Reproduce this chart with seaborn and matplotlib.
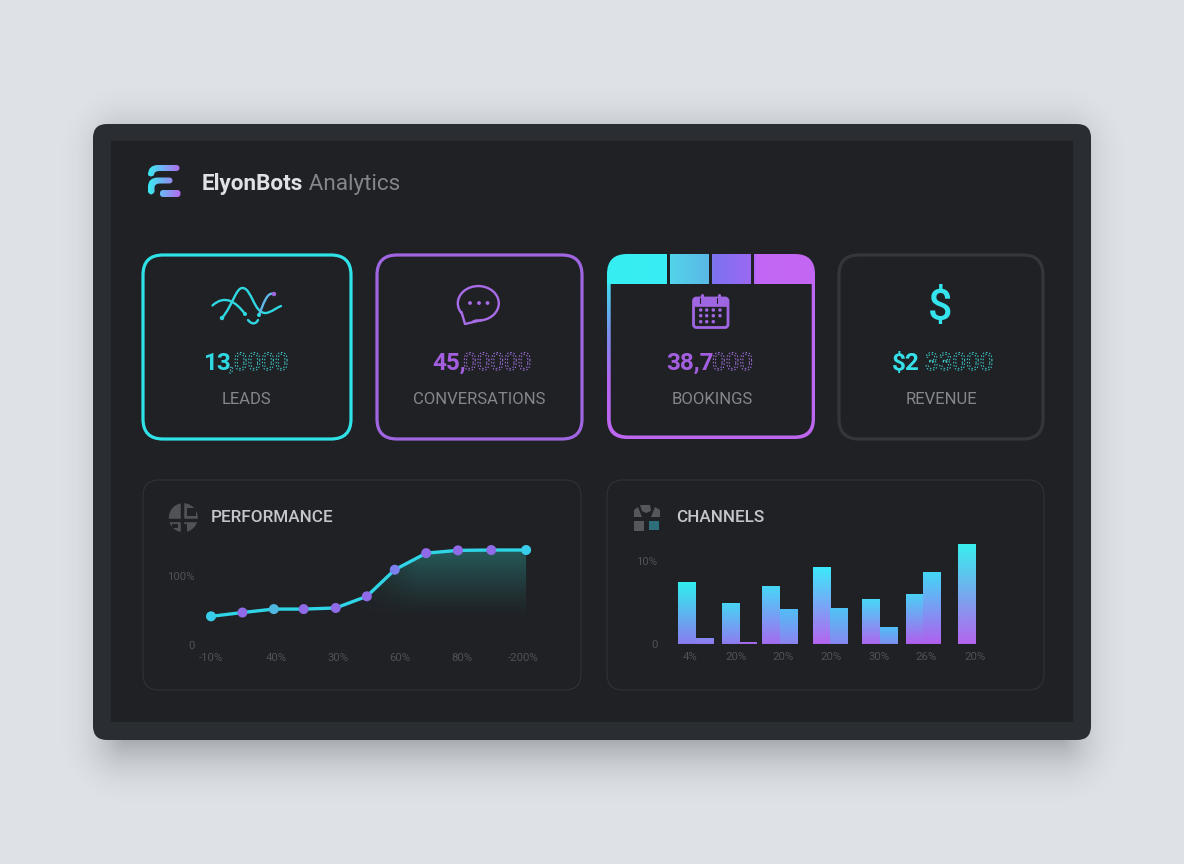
import numpy as np
import pandas as pd
import seaborn as sns
import matplotlib.pyplot as plt
import matplotlib.patheffects as pe
from matplotlib.colors import LinearSegmentedColormap, to_rgb
from matplotlib.patches import FancyBboxPatch, Rectangle, Ellipse, Circle, Polygon, PathPatch
from matplotlib.path import Path

# --- data ---

brand_name = "ElyonBots"
brand_suffix = "Analytics"

kpi_labels = ["LEADS", "CONVERSATIONS", "BOOKINGS", "REVENUE"]
kpi_solid = ["13", "45,", "38,7", "$2"]
kpi_faded = [",0000", "00000", "000", "33000"]

perf_x = [0, 1, 2, 2.95, 3.97, 4.96, 5.85, 6.85, 7.86, 8.92, 10.03]
perf_y = [41.5, 47, 52, 52, 53.6, 70.5, 109, 133, 137, 137.5, 137.5]
perf_kind = ["a", "b", "c", "b", "b", "b", "d", "b", "b", "b", "a"]
perf_xticks = [0, 2.07, 4.05, 6.01, 7.98, 9.93]
perf_xlabels = ["-10%", "40%", "30%", "60%", "80%", "-200%"]

channel_x = [0, 1, 1.92, 3.08, 4.21, 5.21, 6.39]
channel_a = [7.4, 4.9, 7.0, 9.3, 5.4, 6.0, 12.0]
channel_b = [0.7, 0.25, 4.25, 4.3, 2.1, 8.6, 0.0]
channel_ticks = [-0.14, 0.93, 2.0, 3.09, 4.19, 5.28, 6.39]
channel_xlabels = ["4%", "20%", "20%", "20%", "30%", "26%", "20%"]

# colours
PAGE = "#dee1e6"
FRAME = "#2a2d32"
INNER = "#1f2125"
CYAN = "#2fe2e8"
PURPLE = "#a066e2"
DIM = "#4e5156"
EDGE = "#2f3238"

bar_top = ["#2fefee", "#8589f0", "#47d5f5", "#a56cf0", "#45d8f8", "#50bff7", "#3beafb",
           "#4fc4f6", "#47d8f7", "#4dc0f6", "#4ad0f6", "#44d6f8", "#38eeee", "#38eeee"]
bar_bottom = ["#8a7cf0", "#8f7bf0", "#8f7cf0", "#a56cf0", "#a56cf0", "#8d84f0", "#b565f0",
              "#8888f0", "#ad68ef", "#7f8ff0", "#b060ee", "#b060ee", "#b466ee", "#b466ee"]

sns.set_theme(style="dark")
plt.rcParams["font.family"] = ["Roboto", "DejaVu Sans"]

fig = plt.figure(figsize=(11.84, 8.64), dpi=100, facecolor=PAGE)
bg = fig.add_axes([0, 0, 1, 1])
bg.set_xlim(0, 1184)
bg.set_ylim(864, 0)
bg.axis("off")
bg.set_autoscale_on(False)


def round_box(x0, y0, x1, y1, r, **kw):
    box = FancyBboxPatch((x0 + r, y0 + r), x1 - x0 - 2 * r, y1 - y0 - 2 * r,
                         boxstyle=f"round,pad={r},rounding_size={r}", **kw)
    bg.add_patch(box)
    return box


def gradient(ax, extent, c0, c1, clip=None, horizontal=False, zorder=2):
    t = np.linspace(0, 1, 128)[:, None, None]
    rgb = np.array(to_rgb(c0))[None, None, :] * (1 - t) + np.array(to_rgb(c1))[None, None, :] * t
    if horizontal:
        rgb = rgb.transpose(1, 0, 2)
    im = ax.imshow(rgb, extent=extent, aspect="auto", origin="upper", zorder=zorder, interpolation="bilinear")
    if clip is not None:
        im.set_clip_path(clip)
    return im


class DottedText(pe.AbstractPathEffect):
    def __init__(self, color):
        super().__init__()
        self.color = color

    def draw_path(self, renderer, gc, tpath, affine, rgbFace=None):
        gc0 = renderer.new_gc()
        gc0.copy_properties(gc)
        gc0.set_foreground(self.color)
        gc0.set_linewidth(0.75)
        gc0.set_dashes(0, (1.1, 1.3))
        renderer.draw_path(gc0, tpath, affine, None)
        gc0.restore()


# --- page, soft shadow, dashboard frame ---

yy, xx = np.mgrid[0:864, 0:1184]
dx = np.maximum(np.maximum(125 - xx, xx - 1060), 0)
dy = np.maximum(np.maximum(150 - yy, yy - 738), 0)
dist = np.hypot(dx, dy)
shadow = np.zeros((864, 1184, 4))
shadow[..., :3] = to_rgb("#6f7378")
shadow[..., 3] = np.clip(1 - dist / 72, 0, 1) ** 2.2 * 0.52
bg.imshow(shadow, extent=(0, 1184, 864, 0), aspect="auto", origin="upper", zorder=0)

round_box(93, 124, 1091, 740, 14, fc=FRAME, ec="none", zorder=1)
bg.add_patch(Rectangle((111, 141), 962, 581, fc=INNER, ec="none", zorder=1))

# --- header with logo ---

C3 = Path.CURVE3
logo_top = Path(
    [(148, 175), (148, 165), (158, 165), (176, 165), (179.5, 165), (179.5, 168), (179.5, 171), (176, 171),
     (160, 171), (154, 171), (154, 175), (151, 178), (148, 175)],
    [Path.MOVETO, C3, C3, Path.LINETO, C3, C3, C3, C3, Path.LINETO, C3, C3, C3, C3])
logo_mid = Path(
    [(148, 192), (148, 187), (148, 177.5), (158, 177.5), (169, 177.5), (172.5, 177.5), (172.5, 180.5), (172.5, 183.5),
     (169, 183.5), (160, 183.5), (154.5, 183.5), (154.5, 188), (154.5, 192), (151, 197), (148, 192)],
    [Path.MOVETO, Path.LINETO, C3, C3, Path.LINETO, C3, C3, C3, C3, Path.LINETO, C3, C3, Path.LINETO, C3, C3])
for shape in [logo_top, logo_mid]:
    piece = PathPatch(shape, fc="none", ec="none", zorder=2)
    bg.add_patch(piece)
    gradient(bg, (148, 180.5, 198, 164), "#38ebf2", "#b768f0", clip=piece, horizontal=True, zorder=3)
piece = round_box(160, 190, 180.5, 197, 3.3, fc="none", ec="none", zorder=2)
gradient(bg, (148, 180.5, 198, 164), "#38ebf2", "#b768f0", clip=piece, horizontal=True, zorder=3)

name = bg.text(202, 181.5, brand_name, color="#dfe1e4", fontsize=16.2, fontweight="bold", va="center_baseline", zorder=5)
bg.annotate(" " + brand_suffix, xy=(1, 0), xycoords=name, va="bottom", color="#82858a", fontsize=16.2, zorder=5)

# --- KPI cards ---

card_boxes = [(143, 255, 351, 439), (377, 255, 582, 439), (607, 254, 815, 439), (839, 255, 1043, 439)]
card_colors = [CYAN, PURPLE, PURPLE, "#33363b"]
round_box(*card_boxes[0], 20, fc=INNER, ec=card_colors[0], lw=2.3, zorder=2)
round_box(*card_boxes[1], 20, fc=INNER, ec=card_colors[1], lw=2.3, zorder=2)
round_box(*card_boxes[3], 20, fc=INNER, ec=card_colors[3], lw=2.3, zorder=2)

# bookings card: gradient border plus four coloured header blocks
outer = round_box(607, 254, 815, 439, 20, fc="none", ec="none", zorder=2)
border = LinearSegmentedColormap.from_list("border", ["#40dcef", "#7a90ee", "#b466ee", "#bd66f0"])
by = np.linspace(0, 1, 155)[:, None]
bx = np.linspace(0, 1, 208)[None, :]
bi = bg.imshow(np.clip(by * 1.05 + bx * 1.2, 0, 1), cmap=border, vmin=0, vmax=1, extent=(607, 815, 439, 284),
               aspect="auto", origin="upper", zorder=2)
bi.set_clip_path(outer)
round_box(610.7, 262, 811.7, 435.5, 17, fc=INNER, ec="none", zorder=3)
head = LinearSegmentedColormap.from_list(
    "head", [(0, "#36eff3"), (0.29, "#38ecf2"), (0.31, "#52d2ea"), (0.49, "#5ab8e6"),
             (0.51, "#7c72ef"), (0.70, "#9c68f2"), (0.72, "#c266f6"), (1, "#c466f2")])
hi = bg.imshow(np.linspace(0, 1, 256)[None, :], cmap=head, extent=(607, 815, 284, 254), aspect="auto",
               origin="upper", zorder=4)
hi.set_clip_path(outer)
for gx in [667, 709, 751]:
    bg.add_patch(Rectangle((gx, 254), 3, 30, fc=INNER, ec="none", zorder=5))

# card icons
C4 = Path.CURVE4
A = Path([(212.5, 305.5), (225, 294), (236, 302), (245, 314)], [Path.MOVETO, C4, C4, C4])
B = Path([(222, 318), (233, 305), (236, 287), (243, 288), (252, 289), (254, 314), (266, 313), (272, 312), (276, 308), (281, 306)],
         [Path.MOVETO, C4, C4, C4, C4, C4, C4, C4, C4, C4])
C = Path([(259, 315), (263, 305), (267, 291), (274, 294)], [Path.MOVETO, C4, C4, C4])
D = Path([(248, 320), (252, 325), (256, 324), (258, 320)], [Path.MOVETO, C4, C4, C4])
for p, col in [(A, "#2fd8e0"), (B, "#2fd8e0"), (C, "#5fb8e8"), (D, "#2fd8e0")]:
    bg.add_patch(PathPatch(p, fc="none", ec=col, lw=1.7, capstyle="round", zorder=5))
bg.add_patch(Circle((222, 318), 2.2, fc="#2fd8e0", ec="none", zorder=5))
bg.add_patch(Circle((245, 314), 2.0, fc="#2fd8e0", ec="none", zorder=5))
bg.add_patch(Circle((259, 315), 2.0, fc="#2fd8e0", ec="none", zorder=5))
bg.add_patch(Circle((274, 294), 2.2, fc=PURPLE, ec="none", zorder=5))

BUBBLE = "#a86ce8"
bg.add_patch(Ellipse((478.3, 303.3), 41, 34.5, fc="none", ec=BUBBLE, lw=1.7, zorder=5))
bg.add_patch(Polygon([(461, 311), (465.5, 323.5), (482, 316.5)], fc=INNER, ec="none", zorder=6))
bg.plot([461.5, 465, 482], [312, 324, 320], color=BUBBLE, lw=1.7, solid_joinstyle="round", zorder=7)
for bub_x in [470, 479, 487.5]:
    bg.add_patch(Circle((bub_x, 303), 1.9, fc=BUBBLE, ec="none", zorder=7))

CAL = "#a066e2"
round_box(693.5, 298, 728, 327.5, 3, fc="none", ec=CAL, lw=2.0, zorder=5)
round_box(693.5, 298, 728, 306.5, 2.5, fc=CAL, ec=CAL, lw=0.5, zorder=5)
for rx in [701.7, 719]:
    bg.plot([rx, rx], [294.5, 300], color=CAL, lw=2.2, solid_capstyle="round", zorder=6)
    bg.plot([rx - 2.2, rx - 2.2], [298, 303], color=INNER, lw=0.8, zorder=6)
for ry, cols in [(310, [700.7, 706.7, 713.3, 720]), (315.7, [700.7, 706.7, 713.3, 720]), (321.7, [700.7, 706.7, 713.3])]:
    for cx in cols:
        bg.add_patch(Circle((cx, ry), 1.75, fc=CAL, ec="none", zorder=6))

bg.text(940.5, 309, "$", color="#35e3ec", fontsize=31, fontweight="medium", ha="center", va="center", zorder=5)

solid_x = [203, 432, 666, 892]
faded_x = [229, 463, 712, 925]
number_colors = ["#2fd8e0", "#a45fe0", "#a45fe0", "#35e0e8"]
faded_colors = ["#3fc8c8", "#a070dc", "#a070dc", "#3fc8c8"]
label_x = [246, 479, 712, 941]
for i, label in enumerate(kpi_labels):
    bg.text(solid_x[i], 370, kpi_solid[i], color=number_colors[i], fontsize=17.5, fontweight="bold", ha="left", va="baseline", zorder=5)
    bg.text(faded_x[i], 370, kpi_faded[i], color=number_colors[i], fontsize=17.5, ha="left", va="baseline", zorder=5,
            path_effects=[DottedText(faded_colors[i])])
    bg.text(label_x[i], 400, label, color="#84878b", fontsize=12, ha="center", va="center", zorder=5)

# --- lower panels ---

round_box(143, 480, 581, 690, 16, fc="none", ec=EDGE, lw=0.8, zorder=2)
round_box(607, 480, 1044, 690, 16, fc="none", ec=EDGE, lw=0.8, zorder=2)
bg.text(211, 518, "PERFORMANCE", color="#c4c6c9", fontsize=12.3, fontweight="medium", va="center", zorder=5)
bg.text(676, 518, "CHANNELS", color="#c4c6c9", fontsize=12.3, fontweight="medium", va="center", zorder=5)

# panel glyphs
bg.add_patch(Circle((183.3, 517.7), 14.5, fc="#505257", ec="none", zorder=3))
bg.plot([169, 198], [520, 520], color=INNER, lw=2.5, zorder=4)
bg.plot([182, 182], [503, 533], color=INNER, lw=2.5, zorder=4)
bg.add_patch(Rectangle((187, 508), 9, 8, fc=INNER, ec="none", zorder=4))
bg.add_patch(Rectangle((172, 524), 6, 4, fc=INNER, ec="none", zorder=4))
bg.add_patch(Rectangle((184, 524), 3, 8, fc=INNER, ec="none", zorder=4))
bg.add_patch(Polygon([(640, 505), (650, 505), (651, 511), (646, 513), (642, 511)], fc="#55575c", ec="none", zorder=3))
bg.add_patch(Polygon([(634, 510), (638, 507), (642, 517), (634, 517)], fc="#55575c", ec="none", zorder=3))
bg.add_patch(Polygon([(655, 507), (660, 510), (660, 517), (651, 517)], fc="#55575c", ec="none", zorder=3))
bg.add_patch(Rectangle((634, 521), 10, 10, fc="#55575c", ec="none", zorder=3))
bg.add_patch(Rectangle((649, 521), 10, 9, fc="#2c6f7a", ec="none", zorder=3))


def axes_px(left, right, top, bottom):
    ax = fig.add_axes([left / 1184, 1 - bottom / 864, (right - left) / 1184, (bottom - top) / 864], facecolor="none")
    ax.set_zorder(5)
    sns.despine(ax=ax, left=True, bottom=True)
    ax.tick_params(length=0, colors=DIM, labelsize=8.2)
    ax.grid(False)
    return ax


# performance chart
ax_perf = axes_px(208, 528, 540, 645)
perf = pd.DataFrame({"x": perf_x, "y": perf_y, "kind": perf_kind})
sns.lineplot(data=perf, x="x", y="y", color="#2fd5e6", lw=2.4, ax=ax_perf, errorbar=None, clip_on=False, zorder=3)
sns.scatterplot(data=perf, x="x", y="y", hue="kind", ax=ax_perf, s=52, linewidth=0, legend=False, clip_on=False, zorder=4,
                palette={"a": "#38cdea", "b": "#8f6be8", "c": "#4fb8e0", "d": "#7a80ec"})
ax_perf.set_xlim(-0.096, 10.09)
ax_perf.set_ylim(0, 152)
ax_perf.set_autoscale_on(False)
area = ax_perf.fill_between(perf_x, perf_y, 0, color="none", lw=0)
fy = np.linspace(152, 0, 200)[:, None]
fx = np.linspace(-0.096, 10.09, 300)[None, :]
field = np.zeros((200, 300, 4))
field[..., :3] = to_rgb("#2fb8b0")
field[..., 3] = 0.38 * np.clip((fy - 40) / 97, 0, 1) ** 1.2 * np.clip((fx - 4.6) / 2.0, 0, 1) ** 0.8
fill_im = ax_perf.imshow(field, extent=(-0.096, 10.09, 0, 152), aspect="auto", origin="upper", zorder=1)
fill_im.set_clip_path(area.get_paths()[0], ax_perf.transData)
ax_perf.axhline(0, color="#33363c", lw=0.8, zorder=0)
ax_perf.set_xticks(perf_xticks, perf_xlabels)
ax_perf.set_yticks([0, 100], ["0", "100%"])
ax_perf.tick_params(axis="x", pad=5.5)
ax_perf.tick_params(axis="y", pad=9.5)
ax_perf.set_xlabel("")
ax_perf.set_ylabel("")

# channels chart
ax_bar = axes_px(668, 1000, 534, 644)
channels = pd.DataFrame({
    "x": channel_x * 2,
    "value": channel_a + channel_b,
    "series": ["a"] * len(channel_a) + ["b"] * len(channel_b),
})
sns.barplot(data=channels, x="x", y="value", hue="series", native_scale=True, width=0.86, gap=0, errorbar=None,
            legend=False, ax=ax_bar, linewidth=0, palette=["#3fd8f5", "#8888f0"])
ax_bar.set_xlim(-0.634, 6.96)
ax_bar.set_ylim(0, 13.2)
ax_bar.set_autoscale_on(False)
ordered = sorted(ax_bar.patches, key=lambda b: b.get_x())
for bar, c0, c1 in zip(ordered, bar_top, bar_bottom):
    h = bar.get_height()
    if h > 0:
        gradient(ax_bar, (bar.get_x(), bar.get_x() + bar.get_width(), 0, h), c0, c1, clip=bar, zorder=3)
ax_bar.axhline(0, color="#33363c", lw=0.8, zorder=4)
ax_bar.set_xticks(channel_ticks, channel_xlabels)
ax_bar.set_yticks([0, 10], ["0", "10%"])
ax_bar.tick_params(axis="x", pad=5.5)
ax_bar.tick_params(axis="y", pad=7.5)
ax_bar.set_xlabel("")
ax_bar.set_ylabel("")

fig.savefig("out.png", dpi=100, facecolor=PAGE)
